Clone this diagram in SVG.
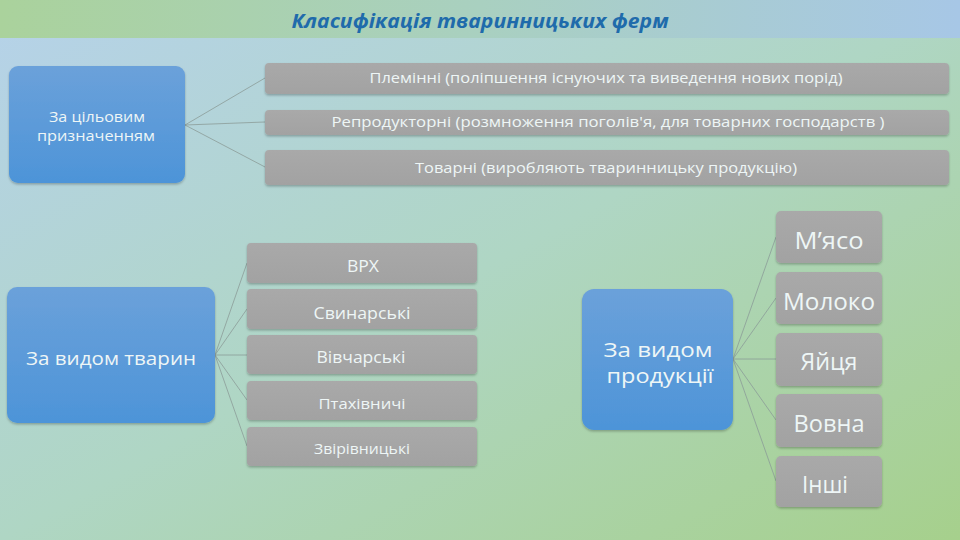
<svg xmlns="http://www.w3.org/2000/svg" width="960" height="540" viewBox="0 0 960 540">
<defs>
<linearGradient id="bg" x1="0" y1="0" x2="1" y2="1">
<stop offset="0" stop-color="#b6d2ea"/>
<stop offset="0.5" stop-color="#afd6c4"/>
<stop offset="1" stop-color="#a6d08c"/>
</linearGradient>
<linearGradient id="tb" x1="0" y1="0" x2="1" y2="0">
<stop offset="0" stop-color="#aad29c"/>
<stop offset="0.5" stop-color="#a9d0c0"/>
<stop offset="1" stop-color="#a7c7e6"/>
</linearGradient>
<linearGradient id="blue" x1="0" y1="0" x2="0" y2="1">
<stop offset="0" stop-color="#6ba1da"/>
<stop offset="1" stop-color="#4d94d8"/>
</linearGradient>
<linearGradient id="gray" x1="0" y1="0" x2="0" y2="1">
<stop offset="0" stop-color="#a9a9a9"/>
<stop offset="1" stop-color="#a2a2a2"/>
</linearGradient>
<filter id="sh" x="-10%" y="-10%" width="120%" height="130%">
<feDropShadow dx="0" dy="1.5" stdDeviation="1.2" flood-color="#000" flood-opacity="0.25"/>
</filter>
</defs>
<style>
.blue{fill:url(#blue);filter:url(#sh)}
.gray{fill:url(#gray);filter:url(#sh)}
.t{font-family:"Open Sans","Lato","DejaVu Sans",sans-serif;fill:#eef6f6;text-anchor:middle}
.c{stroke:#8c9c98;stroke-width:0.8;fill:none}
</style>
<rect width="960" height="540" fill="url(#bg)"/>
<rect width="960" height="38" fill="url(#tb)"/>
<text x="480" y="28" font-family="'Open Sans','Liberation Sans',sans-serif" font-size="20" font-weight="bold" font-style="italic" fill="#1f6bab" text-anchor="middle" textLength="377" lengthAdjust="spacingAndGlyphs">Класифікація тваринницьких ферм</text>

<g id="connectors">
<path class="c" d="M185 125 L265 78 M185 125 L265 122 M185 125 L265 167"/>
<path class="c" d="M215 355 L247 263 M215 355 L247 309 M215 355 L247 355 M215 355 L247 400 M215 355 L247 446"/>
<path class="c" d="M733 359 L776 237 M733 359 L776 298 M733 359 L776 359 M733 359 L776 420 M733 359 L776 481"/>
</g>

<g id="n-purpose">
<rect class="blue" x="9" y="66" width="176" height="117" rx="9"/>
<text class="t" x="97" y="122" font-size="14" textLength="96" lengthAdjust="spacingAndGlyphs">За цільовим</text>
<text class="t" x="96" y="141" font-size="14" textLength="118" lengthAdjust="spacingAndGlyphs">призначенням</text>
</g>
<g id="p1">
<rect class="gray" x="265" y="63" width="684" height="31" rx="4"/>
<text class="t" x="606" y="83" font-size="14" textLength="473" lengthAdjust="spacingAndGlyphs">Племінні (поліпшення існуючих та виведення нових порід)</text>
</g>
<g id="p2">
<rect class="gray" x="265" y="110" width="684" height="25" rx="4"/>
<text class="t" x="608" y="127" font-size="14" textLength="553" lengthAdjust="spacingAndGlyphs">Репродукторні (розмноження поголів'я, для товарних господарств )</text>
</g>
<g id="p3">
<rect class="gray" x="265" y="150" width="684" height="35" rx="4"/>
<text class="t" x="606" y="173" font-size="14" textLength="382" lengthAdjust="spacingAndGlyphs">Товарні (виробляють тваринницьку продукцію)</text>
</g>

<g id="n-animals">
<rect class="blue" x="7" y="287" width="208" height="136" rx="10"/>
<text class="t" x="111" y="365" font-size="19" textLength="170" lengthAdjust="spacingAndGlyphs">За видом тварин</text>
</g>
<g id="a1">
<rect class="gray" x="247" y="243" width="230" height="40" rx="4"/>
<text class="t" x="363" y="272" font-size="16" textLength="32" lengthAdjust="spacingAndGlyphs">ВРХ</text>
</g>
<g id="a2">
<rect class="gray" x="247" y="289" width="230" height="40" rx="4"/>
<text class="t" x="362" y="319" font-size="16" textLength="97" lengthAdjust="spacingAndGlyphs">Свинарські</text>
</g>
<g id="a3">
<rect class="gray" x="247" y="335" width="230" height="39" rx="4"/>
<text class="t" x="361" y="363" font-size="16" textLength="89" lengthAdjust="spacingAndGlyphs">Вівчарські</text>
</g>
<g id="a4">
<rect class="gray" x="247" y="381" width="230" height="39" rx="4"/>
<text class="t" x="362" y="409" font-size="15" textLength="87" lengthAdjust="spacingAndGlyphs">Птахівничі</text>
</g>
<g id="a5">
<rect class="gray" x="247" y="427" width="230" height="39" rx="4"/>
<text class="t" x="362" y="454" font-size="14" textLength="96" lengthAdjust="spacingAndGlyphs">Звірівницькі</text>
</g>

<g id="n-products">
<rect class="blue" x="582" y="289" width="151" height="141" rx="12"/>
<text class="t" x="658" y="357" font-size="20" textLength="109" lengthAdjust="spacingAndGlyphs">За видом</text>
<text class="t" x="660" y="383" font-size="20" textLength="107" lengthAdjust="spacingAndGlyphs">продукції</text>
</g>
<g id="r1">
<rect class="gray" x="776" y="211" width="106" height="52" rx="5"/>
<text class="t" x="829" y="249" font-size="23" textLength="69" lengthAdjust="spacingAndGlyphs">М’ясо</text>
</g>
<g id="r2">
<rect class="gray" x="776" y="272" width="106" height="52" rx="5"/>
<text class="t" x="829" y="310" font-size="23" textLength="92" lengthAdjust="spacingAndGlyphs">Молоко</text>
</g>
<g id="r3">
<rect class="gray" x="776" y="333" width="106" height="53" rx="5"/>
<text class="t" x="829" y="370" font-size="23" textLength="57" lengthAdjust="spacingAndGlyphs">Яйця</text>
</g>
<g id="r4">
<rect class="gray" x="776" y="394" width="106" height="53" rx="5"/>
<text class="t" x="829" y="432" font-size="23" textLength="71" lengthAdjust="spacingAndGlyphs">Вовна</text>
</g>
<g id="r5">
<rect class="gray" x="776" y="456" width="106" height="51" rx="5"/>
<text class="t" x="825" y="493" font-size="23" textLength="46" lengthAdjust="spacingAndGlyphs">Інші</text>
</g>
</svg>
